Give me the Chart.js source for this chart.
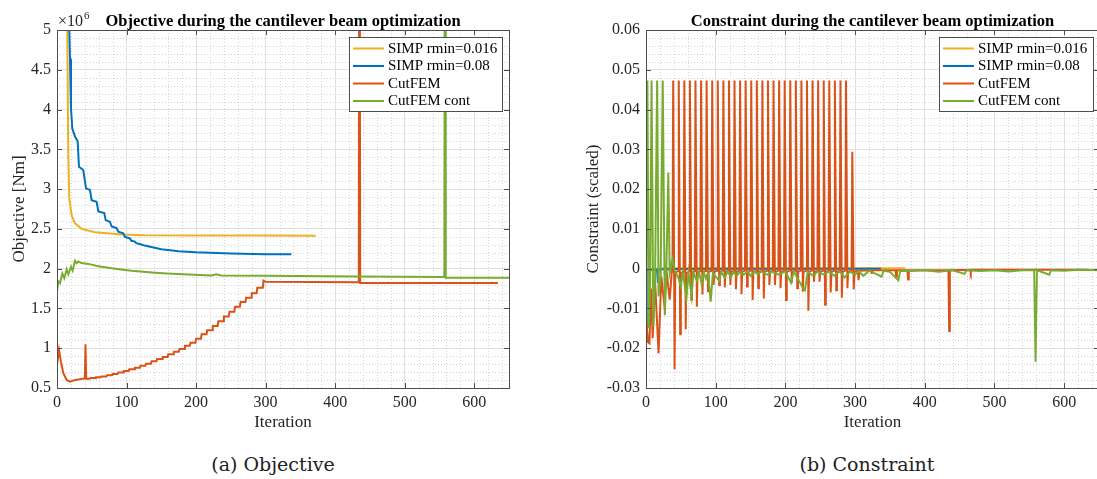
<!DOCTYPE html>
<html>
<head>
<meta charset="utf-8">
<script src="https://cdn.jsdelivr.net/npm/chart.js@4.4.1/dist/chart.umd.min.js"></script>
<style>
  html, body { margin: 0; padding: 0; background: #fff; overflow: hidden; }
  body { width: 1097px; height: 479px; position: relative; }
  canvas { position: absolute; top: 0; }
  #objectiveChart { left: 0; }
  #constraintChart { left: 560px; }
  .caption {
    position: absolute; top: 453px; line-height: 22px;
    font-family: "DejaVu Serif", serif; font-size: 19px; color: #222;
    transform: translateX(-50%); white-space: nowrap;
  }
</style>
</head>
<body>
<canvas id="objectiveChart" width="560" height="440"></canvas>
<canvas id="constraintChart" width="560" height="440"></canvas>
<div class="caption" style="left:273px">(a) Objective</div>
<div class="caption" style="left:867px">(b) Constraint</div>
<script>
const seriesNames = ['SIMP rmin=0.016', 'SIMP rmin=0.08', 'CutFEM', 'CutFEM cont'];
const seriesColors = ['#EDB120', '#0072BD', '#D95319', '#77AC30'];

const iterTicks = [0, 100, 200, 300, 400, 500, 600];
const objTicks = [0.5, 1, 1.5, 2, 2.5, 3, 3.5, 4, 4.5, 5];
const conTicks = [-0.03, -0.02, -0.01, 0, 0.01, 0.02, 0.03, 0.04, 0.05, 0.06];

// objective, x1e6 Nm
const simpFineObjIt = [12, 14.8, 16.3, 17.7, 21, 25.9, 35.4, 54.6, 93, 126, 205, 300, 372];
const simpFineObj   = [6.5, 5.0, 3.39, 2.88, 2.67, 2.57, 2.5, 2.457, 2.43, 2.42, 2.418, 2.416, 2.415];

const simpCoarseObjIt = [15, 18.7, 20.1, 22, 25.9, 29.7, 31.6, 37.8, 41.7, 47.4, 49.8, 57, 59.4, 68, 70, 76, 78.6,
                         85.7, 88.1, 95.3, 97.7, 104.9, 107, 112, 114, 119, 126, 150, 175, 200, 250, 300, 337];
const simpCoarseObj   = [6.0, 4.64, 4.02, 3.76, 3.66, 3.6, 3.28, 3.24, 3.01, 2.99, 2.86, 2.84, 2.72, 2.70, 2.61, 2.59, 2.53,
                         2.51, 2.465, 2.445, 2.40, 2.38, 2.35, 2.34, 2.32, 2.31, 2.29, 2.245, 2.22, 2.205, 2.19, 2.182, 2.18];

// CutFEM: start, then one step per remeshing, then plateau
const cutStartIt = [0, 2.9, 5.7, 9.1, 13.9, 18.7, 25.9, 33, 40, 41, 42];
const cutStart   = [0.79, 0.978, 0.83, 0.685, 0.60, 0.58, 0.60, 0.61, 0.62, 1.05, 0.615];
const cutStepIt = [47, 55, 63, 71, 79, 87, 95, 103, 111, 119, 127, 135, 143, 151, 159, 167,
                   175, 183, 191, 199, 207, 215, 223, 231, 239, 247, 255, 263, 271, 279, 287, 296];
const cutStep   = [0.625, 0.635, 0.645, 0.66, 0.675, 0.695, 0.715, 0.735, 0.755, 0.78, 0.805, 0.835, 0.865, 0.89, 0.925, 0.955,
                   0.99, 1.03, 1.07, 1.12, 1.175, 1.225, 1.28, 1.34, 1.40, 1.46, 1.52, 1.58, 1.635, 1.69, 1.76, 1.85];
const cutTailIt = [300, 434, 435, 436, 634];
const cutTail   = [1.835, 1.83, 9, 1.82, 1.82];

const cutContObjIt = [0, 1.9, 4.3, 7.7, 10.5, 13.9, 16.3, 20.1, 22.5, 25.9, 28.3, 30.6, 35.4, 45, 59.4, 78.6, 107,
                      141, 158, 205, 222, 229, 236, 301, 433, 557, 558, 559, 650];
const cutContObj   = [1.71, 1.84, 1.82, 1.94, 1.88, 1.99, 1.93, 2.025, 1.975, 2.10, 2.07, 2.09, 2.07, 2.06, 2.03, 2.005, 1.975,
                      1.95, 1.94, 1.92, 1.915, 1.93, 1.915, 1.91, 1.90, 1.895, 9, 1.887, 1.885];

// constraint (scaled)
const simpFineConIt = [0, 20, 372];
const simpFineCon   = [-0.0003, 0.0001, 0.0001];

const simpCoarseConIt = [0, 1, 16, 17, 18, 40, 120, 337];
const simpCoarseCon   = [-0.0155, -0.0002, -0.0003, -0.0035, -0.0002, -0.0001, 0, 0];

const cutConIt = [
  0, 3, 5, 7, 9.6, 13, 18, 22, 26, 30, 34, 37,
  38, 39, 41, 42,  46, 47, 49, 50,  54, 55, 57, 58,  62, 63, 65, 66,
  70, 71, 73, 74,  78, 79, 81, 82,  86, 87, 89, 90,  94, 95, 97, 98,
  102, 103, 105, 106,  110, 111, 113, 114,  118, 119, 121, 122,  126, 127, 129, 130,
  134, 135, 137, 138,  142, 143, 145, 146,  150, 151, 153, 154,  158, 159, 161, 162,
  166, 167, 169, 170,  174, 175, 177, 178,  182, 183, 185, 186,  190, 191, 193, 194,
  198, 199, 201, 202,  206, 207, 209, 210,  214, 215, 217, 218,  222, 223, 225, 226,
  230, 231, 233, 234,  238, 239, 241, 242,  246, 247, 249, 250,  254, 255, 257, 258,
  262, 263, 265, 266,  270, 271, 273, 274,  278, 279, 281, 282,  286, 287, 289, 290,
  295, 296, 298, 299,
  304, 305, 306, 323, 324, 325, 358, 359, 360, 375, 376, 377, 434, 435, 436, 465, 466, 467, 634
];
const cutCon = [
  -0.012, -0.0185, -0.0188, -0.005, -0.0175, -0.003, -0.0213, -0.002, -0.0085, -0.0015, -0.0078, -0.0008,
  -0.0008, 0.0473, -0.0253, -0.001,  -0.0006, 0.0473, -0.0165, -0.001,  -0.0008, 0.0473, -0.0152, -0.0012,  -0.0007, 0.0473, -0.0078, -0.001,
  -0.0006, 0.0473, -0.0096, -0.001,  -0.0006, 0.0473, -0.0065, -0.0008,  -0.0006, 0.0473, -0.0057, -0.0008,  -0.0006, 0.0473, -0.0041, -0.0008,
  -0.0005, 0.0473, -0.0041, -0.0008,  -0.0005, 0.0473, -0.0047, -0.0008,  -0.0005, 0.0473, -0.0041, -0.0008,  -0.0005, 0.0473, -0.0052, -0.0008,
  -0.0005, 0.0473, -0.0064, -0.0008,  -0.0005, 0.0473, -0.0045, -0.0008,  -0.0005, 0.0473, -0.0079, -0.0008,  -0.0005, 0.0473, -0.0049, -0.0008,
  -0.0005, 0.0473, -0.0075, -0.0008,  -0.0005, 0.0473, -0.0041, -0.0008,  -0.0005, 0.0473, -0.0041, -0.0008,  -0.0005, 0.0473, -0.0049, -0.0008,
  -0.0005, 0.0473, -0.0079, -0.0008,  -0.0005, 0.0473, -0.0037, -0.0008,  -0.0005, 0.0473, -0.0049, -0.0008,  -0.0005, 0.0473, -0.0058, -0.0008,
  -0.0005, 0.0473, -0.0106, -0.0008,  -0.0005, 0.0473, -0.0033, -0.0008,  -0.0005, 0.0473, -0.0033, -0.0008,  -0.0005, 0.0473, -0.0091, -0.0008,
  -0.0005, 0.0473, -0.006, -0.0008,  -0.0005, 0.0473, -0.0054, -0.0008,  -0.0005, 0.0473, -0.0073, -0.0008,  -0.0005, 0.0473, -0.0049, -0.0008,
  -0.0005, 0.0294, -0.0052, -0.0008,
  -0.0005, -0.0029, -0.0005, -0.0004, -0.0013, -0.0004, -0.0004, -0.002, -0.0004, -0.0004, -0.0027, -0.0004,
  -0.0004, -0.0157, -0.0004, -0.0003, -0.001, -0.0003, -0.0003
];

const cutContConIt = [0, 2, 4, 6, 8, 10.5, 13, 16, 18, 21, 24, 27, 29, 32, 34, 38, 41, 46, 50, 53,
  58, 61, 65.5, 68, 73, 76, 80, 83, 86, 89, 92.8, 96, 100, 105, 108, 113, 117, 122, 126, 130,
  135, 140, 146, 150, 156, 160, 166, 175, 180, 190, 200, 208, 212, 225, 228, 232, 240, 246, 255, 262,
  270, 278, 285, 293, 300, 305, 312, 320, 338, 341, 350, 362, 365, 380, 400, 420, 440, 457, 460, 480,
  500, 520, 540, 557, 559, 561, 578.6, 581, 600, 620, 650];
const cutContCon = [-0.006, 0.0473, -0.015, -0.003, 0.0473, -0.0146, -0.003, 0.0473, -0.007, -0.002,
  0.0473, -0.0117, -0.002, 0.0242, -0.001, 0.0024, -0.0005, -0.002, -0.0045, -0.0008,
  -0.0074, -0.001, -0.007, -0.001, -0.003, -0.0008, -0.004, -0.001, -0.0025, -0.001,
  -0.0083, -0.001, -0.002, -0.003, -0.0008, -0.0022, -0.0008, -0.002, -0.0008, -0.0018,
  -0.0008, -0.0015, -0.0007, -0.0018, -0.0007, -0.0014, -0.0007, -0.0016, -0.0007, -0.0015,
  -0.0007, -0.0035, -0.0007, -0.0048, -0.0054, -0.0008, -0.0018, -0.0007, -0.0015, -0.0007,
  -0.0018, -0.0007, -0.0022, -0.0007, -0.0015, -0.0006, -0.0018, -0.0005, -0.002, -0.0005,
  -0.0008, -0.0029, -0.0005, -0.0006, -0.0004, -0.0008, -0.0004, -0.0013, -0.0004, -0.0006,
  -0.0004, -0.0007, -0.0004, -0.0004, -0.0234, -0.0004, -0.0015, -0.0004, -0.0005, -0.0003, -0.0004];

const SERIF = 'Liberation Serif';
const AXIS_COLOR = '#4d4d4d';

Chart.defaults.font.family = SERIF;
Chart.defaults.color = '#262626';

loading();

function loading() {
    ObjectiveChart();
    ConstraintChart();
}

function pts(xs, ys) {
    return xs.map((x, i) => ({ x: x, y: ys[i] }));
}

function stairs(startIt, startVal, stepIt, stepVal, tailIt, tailVal) {
    const out = pts(startIt, startVal);
    let prev = startVal[startVal.length - 1];
    stepIt.forEach((s, i) => {
        out.push({ x: s, y: prev });
        out.push({ x: s + 1, y: stepVal[i] });
        prev = stepVal[i];
    });
    return out.concat(pts(tailIt, tailVal));
}

function makeDatasets(lines) {
    // later series are drawn on top
    return lines.map((d, i) => ({
        label: seriesNames[i],
        data: d,
        borderColor: seriesColors[i],
        backgroundColor: seriesColors[i],
        borderWidth: 2,
        pointRadius: 0,
        tension: 0,
        fill: false,
        order: lines.length - i
    }));
}

function fmt(v) {
    return String(parseFloat(v.toFixed(4)));
}

function panelOptions(yMin, yMax, yTicks, yWidth, padRight) {
    return {
        responsive: false,
        animation: false,
        events: [],
        layout: { padding: { left: 0, top: 30, right: padRight, bottom: 0 } },
        plugins: { legend: { display: false }, tooltip: { enabled: false }, title: { display: false } },
        scales: {
            x: {
                type: 'linear', min: 0, max: 650,
                afterBuildTicks: s => { s.ticks = iterTicks.map(v => ({ value: v })); },
                afterFit: s => { s.height = 52; },
                ticks: { font: { family: SERIF, size: 16 }, color: '#262626', padding: 5, maxRotation: 0, callback: fmt },
                grid: { color: '#e1e1e1', drawTicks: false },
                border: { display: false }
            },
            y: {
                type: 'linear', min: yMin, max: yMax,
                afterBuildTicks: s => { s.ticks = yTicks.map(v => ({ value: v })); },
                afterFit: s => { s.width = yWidth; },
                ticks: { font: { family: SERIF, size: 16 }, color: '#262626', padding: 6, callback: fmt },
                grid: { color: '#e1e1e1', drawTicks: false },
                border: { display: false }
            }
        }
    };
}

// minor dotted grid, axes box with inner ticks, titles and legend
function framePlugin(cfg) {
    return {
        id: 'frame',
        beforeDatasetsDraw(chart) {
            const ctx = chart.ctx, a = chart.chartArea;
            const xs = chart.scales.x, ys = chart.scales.y;
            ctx.save();
            ctx.strokeStyle = '#d4d4d4';
            ctx.lineWidth = 1;
            ctx.setLineDash([1, 2]);
            for (let k = 1; k * 20 < 650; k++) {
                const v = k * 20;
                if (v % 100 === 0) continue;
                const p = Math.round(xs.getPixelForValue(v)) + 0.5;
                ctx.beginPath(); ctx.moveTo(p, a.top); ctx.lineTo(p, a.bottom); ctx.stroke();
            }
            const n = Math.round((ys.max - ys.min) / cfg.yMinor);
            for (let k = 1; k < n; k++) {
                const v = ys.min + k * cfg.yMinor;
                if (cfg.yTicks.some(t => Math.abs(t - v) < cfg.yMinor / 10)) continue;
                const p = Math.round(ys.getPixelForValue(v)) + 0.5;
                ctx.beginPath(); ctx.moveTo(a.left, p); ctx.lineTo(a.right, p); ctx.stroke();
            }
            ctx.restore();
        },
        afterDraw(chart) {
            const ctx = chart.ctx, a = chart.chartArea;
            const xs = chart.scales.x, ys = chart.scales.y;
            ctx.save();
            ctx.strokeStyle = AXIS_COLOR;
            ctx.lineWidth = 1;
            ctx.strokeRect(a.left + 0.5, a.top + 0.5, a.right - a.left, a.bottom - a.top);
            ctx.beginPath();
            iterTicks.forEach(v => {
                const p = Math.round(xs.getPixelForValue(v)) + 0.5;
                ctx.moveTo(p, a.bottom); ctx.lineTo(p, a.bottom - 5);
                ctx.moveTo(p, a.top); ctx.lineTo(p, a.top + 5);
            });
            cfg.yTicks.forEach(v => {
                const p = Math.round(ys.getPixelForValue(v)) + 0.5;
                ctx.moveTo(a.left, p); ctx.lineTo(a.left + 5, p);
                ctx.moveTo(a.right, p); ctx.lineTo(a.right - 5, p);
            });
            ctx.stroke();

            const cx = (a.left + a.right) / 2;
            ctx.fillStyle = '#000';
            ctx.font = 'bold 16.5px ' + SERIF;
            ctx.textAlign = 'center';
            ctx.textBaseline = 'alphabetic';
            ctx.fillText(cfg.title, cx, 26);

            ctx.fillStyle = '#262626';
            ctx.font = '17px ' + SERIF;
            ctx.textBaseline = 'middle';
            ctx.fillText('Iteration', cx, 423);

            ctx.save();
            ctx.translate(cfg.yTitleX, (a.top + a.bottom) / 2);
            ctx.rotate(-Math.PI / 2);
            ctx.fillText(cfg.yTitle, 0, 0);
            ctx.restore();

            if (cfg.exponent) {
                ctx.textAlign = 'left';
                ctx.textBaseline = 'alphabetic';
                ctx.font = '16px ' + SERIF;
                ctx.fillText('\u00d710', a.left + 1, 26);
                const w = ctx.measureText('\u00d710').width;
                ctx.font = '11px ' + SERIF;
                ctx.fillText(cfg.exponent, a.left + 2 + w, 19);
            }

            // legend
            const L = cfg.legend;
            ctx.fillStyle = '#fff';
            ctx.fillRect(L.x, L.y, L.w, L.h);
            ctx.strokeStyle = AXIS_COLOR;
            ctx.strokeRect(L.x + 0.5, L.y + 0.5, L.w, L.h);
            ctx.font = '15px ' + SERIF;
            ctx.textAlign = 'left';
            ctx.textBaseline = 'middle';
            seriesNames.forEach((name, i) => {
                const y = L.y + 11.5 + i * 17.5;
                ctx.strokeStyle = seriesColors[i];
                ctx.lineWidth = 2;
                ctx.beginPath(); ctx.moveTo(L.x + 4, y); ctx.lineTo(L.x + 35, y); ctx.stroke();
                ctx.fillStyle = '#000';
                ctx.fillText(name, L.x + 39, y + 0.5);
            });
            ctx.restore();
        }
    };
}

function ObjectiveChart() {
    const ctx = document.getElementById('objectiveChart');
    new Chart(ctx, {
        type: 'line',
        data: {
            datasets: makeDatasets([
                pts(simpFineObjIt, simpFineObj),
                pts(simpCoarseObjIt, simpCoarseObj),
                stairs(cutStartIt, cutStart, cutStepIt, cutStep, cutTailIt, cutTail),
                pts(cutContObjIt, cutContObj)
            ])
        },
        options: panelOptions(0.5, 5, objTicks, 57, 51),
        plugins: [framePlugin({
            title: 'Objective during the cantilever beam optimization',
            yTitle: 'Objective [Nm]',
            yTitleX: 20,
            exponent: '6',
            yTicks: objTicks,
            yMinor: 0.1,
            legend: { x: 349, y: 37, w: 153, h: 74 }
        })]
    });
}

function ConstraintChart() {
    const ctx = document.getElementById('constraintChart');
    new Chart(ctx, {
        type: 'line',
        data: {
            datasets: makeDatasets([
                pts(simpFineConIt, simpFineCon),
                pts(simpCoarseConIt, simpCoarseCon),
                pts(cutConIt, cutCon),
                pts(cutContConIt, cutContCon)
            ])
        },
        options: panelOptions(-0.03, 0.06, conTicks, 86, 21),
        plugins: [framePlugin({
            title: 'Constraint during the cantilever beam optimization',
            yTitle: 'Constraint (scaled)',
            yTitleX: 34,
            exponent: null,
            yTicks: conTicks,
            yMinor: 0.002,
            legend: { x: 379, y: 37, w: 154, h: 74 }
        })]
    });
}
</script>
</body>
</html>
